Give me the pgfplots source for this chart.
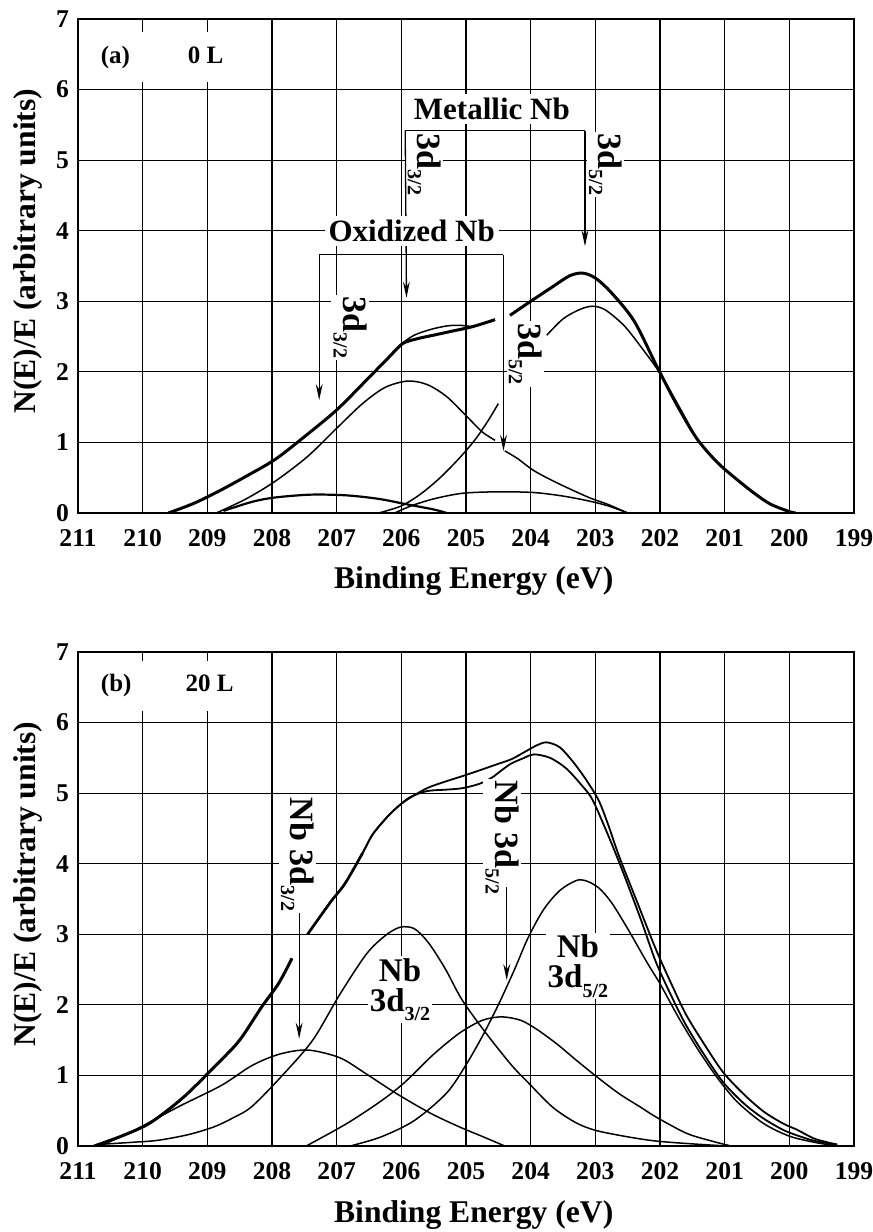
\documentclass[border=0pt]{standalone}
\usepackage{fontspec}
\setmainfont{Liberation Serif}
\usepackage{pgfplots}
\pgfplotsset{compat=1.18}
\usetikzlibrary{arrows.meta}

% lowered small index used in the orbital labels
\newcommand{\sub}[1]{\raisebox{-0.28em}{\fontsize{10}{10}\selectfont #1}}

\pgfplotsset{
  xpspanel/.style={
    scale only axis, width=388pt, height=247pt,
    x dir=reverse, xmin=199, xmax=211, ymin=0, ymax=7,
    xtick={199,200,...,211}, ytick={0,1,...,7},
    scaled x ticks=false,
    grid=major, major grid style={black, line width=0.6pt},
    major tick length=0pt,
    axis line style={line width=0.9pt},
    no markers,
    /pgf/number format/assume math mode=true,
    /pgf/number format/1000 sep={},
    tick label style={font=\fontsize{12.8}{15}\selectfont\bfseries},
    xticklabel style={anchor=base, yshift=-17pt},
    yticklabel style={anchor=east, xshift=-1pt},
    xlabel={Binding Energy (eV)},
    ylabel={N(E)/E (arbitrary units)},
    label style={font=\fontsize{15.8}{18}\selectfont\bfseries},
    xlabel style={at={(axis description cs:0.51,0)}, anchor=base, yshift=-38pt},
    ylabel style={at={(axis description cs:-0.064,0.53)}, anchor=center},
  },
  thinc/.style={black, line width=0.75pt, smooth},
  thickc/.style={black, line width=1.5pt, smooth},
}
\tikzset{
  arr/.style={black, line width=0.65pt, -{Stealth[length=8pt,width=3.4pt]}},
  brk/.style={black, line width=0.65pt},
  rlab/.style={rotate=-90, anchor=base west, fill=white, inner sep=1pt},
}

\begin{document}
\begin{tikzpicture}
\path[use as bounding box] (0,0) rectangle (436.5pt,616pt);

% ---------------- (a) 0 L ----------------
\begin{axis}[xpspanel, at={(39pt,359.5pt)}, anchor=south west]
% envelope, oxide side
\addplot[thickc] coordinates {(209.6,0.0) (209.2,0.14) (208.8,0.32) (208.4,0.52) (207.95,0.76)
  (207.5,1.08) (207.0,1.46) (206.5,1.92) (206.2,2.2) (205.98,2.4) (205.75,2.47) (205.5,2.52)
  (205.2,2.58) (204.9,2.64) (204.55,2.74)};
\addplot[thinc] coordinates {(205.98,2.41) (205.8,2.52) (205.55,2.6) (205.3,2.65) (205.1,2.66) (204.9,2.64)};
% oxide 3d3/2 component
\addplot[thinc] coordinates {(208.86,0.0) (208.4,0.2) (207.95,0.45) (207.45,0.8) (207.0,1.2)
  (206.6,1.55) (206.25,1.78) (205.9,1.87) (205.6,1.82) (205.3,1.65) (205.0,1.38) (204.75,1.15) (204.55,1.03)};
\addplot[thinc] coordinates {(204.4,0.88) (204.2,0.77) (203.95,0.6) (203.6,0.43) (203.1,0.22) (202.8,0.12) (202.5,0.0)};
% broad low component
\addplot[black, line width=1.1pt, smooth] coordinates {(208.75,0.03) (208.3,0.16) (207.95,0.22) (207.4,0.26)
  (206.85,0.25) (206.35,0.2) (205.9,0.12) (205.5,0.05) (205.3,0.0)};
% metal 3d3/2 rising edge
\addplot[thinc] coordinates {(206.35,0.0) (206.0,0.1) (205.7,0.27) (205.4,0.5) (205.1,0.78)
  (204.85,1.05) (204.65,1.32) (204.5,1.55)};
% oxide 3d5/2 component
\addplot[thinc] coordinates {(206.1,0.0) (205.85,0.1) (205.5,0.2) (205.05,0.28) (204.5,0.3)
  (203.95,0.29) (203.5,0.24) (203.1,0.17) (202.8,0.1) (202.5,0.0)};
% envelope, metal side
\addplot[thickc] coordinates {(204.32,2.8) (204.0,3.0) (203.67,3.2) (203.4,3.36) (203.2,3.4)
  (203.0,3.33) (202.75,3.12) (202.4,2.72) (202.05,2.08) (201.75,1.55) (201.45,1.08) (201.2,0.8)
  (201.0,0.62) (200.6,0.32) (200.3,0.13) (200.0,0.02) (199.9,0.0)};
% metal 3d5/2 component
\addplot[thinc] coordinates {(203.75,2.52) (203.5,2.75) (203.25,2.88) (203.05,2.93) (202.85,2.88)
  (202.55,2.65) (202.25,2.3) (202.0,1.98) (201.7,1.5) (201.45,1.08)};

\node[fill=white, inner xsep=6pt, inner ysep=7pt, font=\fontsize{12.5}{14}\selectfont\bfseries]
  at (209.7,6.46) {(a)\hspace{29pt}0 L};

\node[rlab, font=\fontsize{17}{17}\selectfont\bfseries] at (205.75,5.41) {3d\sub{3/2}};
\node[rlab, font=\fontsize{17}{17}\selectfont\bfseries] at (202.95,5.41) {3d\sub{5/2}};
\node[rlab, font=\fontsize{17}{17}\selectfont\bfseries] at (206.9,3.1) {3d\sub{3/2}};
\node[rlab, font=\fontsize{17}{17}\selectfont\bfseries] at (204.19,2.72) {3d\sub{5/2}};

% metallic bracket
\draw[brk] (205.94,5.42) -- (203.16,5.42);
\draw[arr] (205.94,5.42) -- (205.92,3.05);
\draw[arr] (203.16,5.42) -- (203.16,3.78);
% oxidized bracket
\draw[brk] (207.27,3.66) -- (204.42,3.66);
\draw[arr] (207.27,3.66) -- (207.27,1.6);
\draw[arr] (204.42,3.66) -- (204.42,0.88);

\node[fill=white, inner sep=2pt, font=\fontsize{15.5}{17}\selectfont\bfseries] at (204.6,5.73) {Metallic Nb};
\node[fill=white, inner sep=2pt, font=\fontsize{15.5}{17}\selectfont\bfseries] at (205.84,4.0) {Oxidized Nb};
\end{axis}

% ---------------- (b) 20 L ----------------
\begin{axis}[xpspanel, at={(39pt,43pt)}, anchor=south west]
% envelope, high-energy side
\addplot[thickc] coordinates {(210.75,0.0) (210.3,0.15) (209.88,0.33) (209.37,0.69) (208.85,1.16)
  (208.5,1.5) (208.16,1.97) (207.9,2.3) (207.69,2.66)};
% envelope pair
\addplot[thinc, line width=0.9pt] coordinates {(207.45,3.0) (207.1,3.45) (206.87,3.72) (206.6,4.15)
  (206.44,4.42) (206.2,4.68) (206.0,4.85) (205.8,4.97) (205.58,5.08) (205.3,5.17) (205.06,5.24)
  (204.8,5.32) (204.55,5.4) (204.3,5.48) (204.1,5.58) (203.9,5.68) (203.75,5.72) (203.55,5.65)
  (203.35,5.45) (203.15,5.2) (202.95,4.9) (202.8,4.55) (202.63,4.1) (202.35,3.45) (202.06,2.78)
  (201.8,2.25) (201.59,1.85) (201.3,1.42) (201.02,1.04) (200.7,0.73) (200.4,0.49) (200.1,0.32)
  (199.88,0.23) (199.6,0.1) (199.26,0.02)};
\addplot[thinc, line width=0.9pt] coordinates {(207.45,3.0) (207.1,3.45) (206.87,3.72) (206.6,4.15)
  (206.44,4.42) (206.2,4.68) (206.0,4.85) (205.85,4.95) (205.6,5.03) (205.3,5.05) (205.06,5.07)
  (204.8,5.13) (204.6,5.22) (204.44,5.33) (204.3,5.42) (204.1,5.5) (203.95,5.55) (203.7,5.5)
  (203.45,5.35) (203.2,5.1) (203.04,4.9) (202.8,4.4) (202.58,3.9) (202.3,3.22) (202.06,2.6)
  (201.8,2.08) (201.59,1.7) (201.3,1.27) (201.02,0.9) (200.7,0.6) (200.4,0.39) (200.1,0.23)
  (199.88,0.15) (199.6,0.07) (199.26,0.02)};
\addplot[black, line width=1.3pt, smooth] coordinates {(207.45,3.0) (207.1,3.45) (206.87,3.72) (206.6,4.15)};
% oxide 3d3/2
\addplot[thinc] coordinates {(210.66,0.0) (210.09,0.24) (209.46,0.55) (208.78,0.86) (208.31,1.14)
  (207.89,1.3) (207.45,1.36) (206.95,1.25) (206.54,1.02) (206.07,0.74) (205.54,0.46) (205.1,0.27)
  (204.76,0.14) (204.4,0.0)};
% metal 3d3/2
\addplot[thinc] coordinates {(210.71,0.02) (210.2,0.05) (209.77,0.08) (209.3,0.16) (208.9,0.27)
  (208.6,0.4) (208.31,0.56) (207.84,1.0) (207.37,1.5) (206.95,2.15) (206.54,2.72) (206.25,2.98)
  (206.02,3.1) (205.8,3.08) (205.58,2.88) (205.32,2.51) (205.06,2.07) (204.7,1.61) (204.3,1.15)
  (204.04,0.9) (203.66,0.55) (203.3,0.33) (202.99,0.22) (202.5,0.13) (202.06,0.07) (201.5,0.03) (200.97,0.0)};
% oxide 3d5/2
\addplot[thinc] coordinates {(207.47,0.0) (206.84,0.32) (206.31,0.64) (205.95,0.9) (205.5,1.3)
  (205.1,1.6) (204.75,1.78) (204.45,1.83) (204.15,1.78) (203.9,1.65) (203.6,1.45) (203.3,1.22)
  (202.99,0.99) (202.63,0.74) (202.3,0.55) (202.06,0.41) (201.59,0.18) (201.2,0.07) (200.9,0.0)};
% metal 3d5/2
\addplot[thinc] coordinates {(206.79,0.0) (206.31,0.13) (205.8,0.36) (205.3,0.75) (205.0,1.15)
  (204.75,1.55) (204.5,2.0) (204.25,2.5) (204.04,2.95) (203.8,3.35) (203.55,3.62) (203.3,3.76)
  (203.15,3.76) (202.95,3.66) (202.75,3.45) (202.5,3.08) (202.2,2.6) (202.0,2.3) (201.7,1.8)
  (201.4,1.35) (201.1,0.95) (200.8,0.62) (200.4,0.32) (200.0,0.14) (199.6,0.05) (199.26,0.0)};

\node[fill=white, inner xsep=6pt, inner ysep=7pt, font=\fontsize{12.5}{14}\selectfont\bfseries]
  at (209.62,6.52) {(b)\hspace{27pt}20 L};

\node[rlab, font=\fontsize{17}{17}\selectfont\bfseries] at (207.71,4.97) {Nb 3d\sub{3/2}};
\node[rlab, font=\fontsize{17}{17}\selectfont\bfseries] at (204.55,5.21) {Nb 3d\sub{5/2}};
\draw[arr] (207.58,3.3) -- (207.58,1.52);
\draw[arr] (204.37,3.67) -- (204.37,2.35);

\node[fill=white, inner sep=1pt, align=center, font=\fontsize{16.5}{15}\selectfont\bfseries]
  at (206.02,2.22) {Nb\\3d\sub{3/2}};
\node[fill=white, inner sep=1pt, align=center, font=\fontsize{16.5}{15}\selectfont\bfseries]
  at (203.27,2.55) {Nb\\3d\sub{5/2}};
\end{axis}
\end{tikzpicture}
\end{document}
